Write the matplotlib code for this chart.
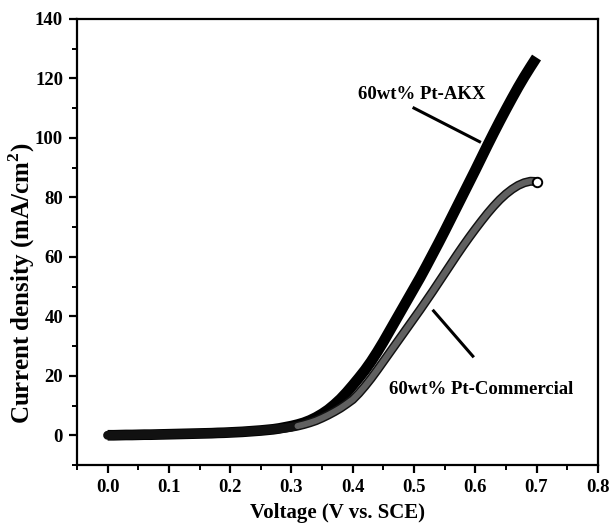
import matplotlib
matplotlib.use("Agg")
import matplotlib.pyplot as plt
from matplotlib.ticker import MultipleLocator

voltage = [round(0.01 * i, 2) for i in range(71)]

akx = [0.0, 0.0, 0.05, 0.1, 0.1, 0.15, 0.2, 0.2, 0.25, 0.3,
       0.35, 0.4, 0.45, 0.5, 0.55, 0.6, 0.65, 0.7, 0.8, 0.85,
       0.95, 1.05, 1.15, 1.3, 1.45, 1.6, 1.8, 2.0, 2.3, 2.7,
       3.1, 3.6, 4.2, 5.0, 6.0, 7.2, 8.6, 10.3, 12.2, 14.4,
       16.8, 19.3, 21.9, 24.8, 28.0, 31.4, 35.0, 38.6, 42.2, 45.8,
       49.4, 53.0, 56.8, 60.7, 64.6, 68.6, 72.7, 76.8, 80.9, 85.0,
       89.1, 93.3, 97.5, 101.6, 105.6, 109.5, 113.3, 117.0, 120.5, 123.8,
       127.0]

commercial = [0.0, 0.0, 0.05, 0.1, 0.1, 0.15, 0.2, 0.2, 0.25, 0.3,
              0.35, 0.4, 0.45, 0.5, 0.55, 0.6, 0.65, 0.7, 0.8, 0.85,
              0.95, 1.05, 1.15, 1.3, 1.45, 1.6, 1.8, 2.0, 2.2, 2.4,
              2.7, 3.1, 3.6, 4.2, 4.9, 5.8, 6.8, 7.9, 9.1, 10.5,
              12.0, 14.1, 16.5, 19.1, 21.9, 24.8, 27.7, 30.6, 33.5, 36.4,
              39.3, 42.2, 45.2, 48.2, 51.3, 54.4, 57.5, 60.6, 63.6, 66.5,
              69.3, 72.0, 74.6, 77.0, 79.2, 81.1, 82.7, 84.0, 84.9, 85.4,
              85.3]

label_akx = "60wt% Pt-AKX"
label_com = "60wt% Pt-Commercial"

plt.rcParams['font.family'] = ['Liberation Serif', 'DejaVu Serif']
plt.rcParams['font.weight'] = 'bold'
plt.rcParams['mathtext.fontset'] = 'custom'
plt.rcParams['mathtext.bf'] = 'Liberation Serif:bold'
plt.rcParams['mathtext.rm'] = 'Liberation Serif:bold'

fig = plt.figure(figsize=(6.12, 5.28), dpi=100)
ax = fig.add_axes([0.1258, 0.1193, 0.851, 0.845])

# Pt-AKX: thick solid black band
ax.plot(voltage, akx, color='black', lw=7.7, solid_capstyle='butt',
        solid_joinstyle='round', zorder=3)
ax.plot(voltage[:34], akx[:34], color='#8a8a8a', lw=0.7, ls=(0, (1, 2)), zorder=3.5)

# Pt-Commercial: dark textured band with black edges
ax.plot(voltage, commercial, color='#111111', lw=6.5, solid_capstyle='round', zorder=4)
ax.plot(voltage[31:], commercial[31:], color='#606060', lw=4.4, solid_capstyle='round', zorder=4.5)
ax.plot(voltage[-1:], commercial[-1:], marker='o', ms=6.8, mfc='white', mec='black',
        mew=1.4, ls='none', zorder=5)

# annotations
ax.text(0.513, 114.5, label_akx, ha='center', va='center', fontsize=13.5, fontweight='bold')
ax.plot([0.500, 0.607], [110.0, 98.7], color='black', lw=2.2, zorder=6)
ax.text(0.609, 15.5, label_com, ha='center', va='center', fontsize=13.5, fontweight='bold')
ax.plot([0.532, 0.596], [41.8, 26.6], color='black', lw=2.2, zorder=6)

ax.set_xlim(-0.05, 0.8)
ax.set_ylim(-10, 140)
ax.xaxis.set_minor_locator(MultipleLocator(0.05))
ax.yaxis.set_minor_locator(MultipleLocator(10))
ax.set_xticks([0.0, 0.1, 0.2, 0.3, 0.4, 0.5, 0.6, 0.7, 0.8])
ax.set_xticklabels(['0.0', '0.1', '0.2', '0.3', '0.4', '0.5', '0.6', '0.7', '0.8'])
ax.set_yticks([0, 20, 40, 60, 80, 100, 120, 140])

ax.tick_params(which='major', direction='out', length=6, width=1.6, labelsize=13.5, pad=4)
ax.tick_params(which='minor', direction='out', length=3.5, width=1.4)
ax.tick_params(top=False, right=False, which='both')
for lbl in ax.get_xticklabels() + ax.get_yticklabels():
    lbl.set_fontweight('bold')
for sp in ax.spines.values():
    sp.set_linewidth(1.6)

ax.set_xlabel("Voltage (V vs. SCE)", fontsize=15, fontweight='bold', labelpad=5)
fig.text(22 / 612, 1 - 283 / 528, "Current density (mA/cm$^{\\mathbf{2}}$)", rotation=90,
         ha='center', va='center', fontsize=18, fontweight='bold')

fig.savefig("out.png", dpi=100)
